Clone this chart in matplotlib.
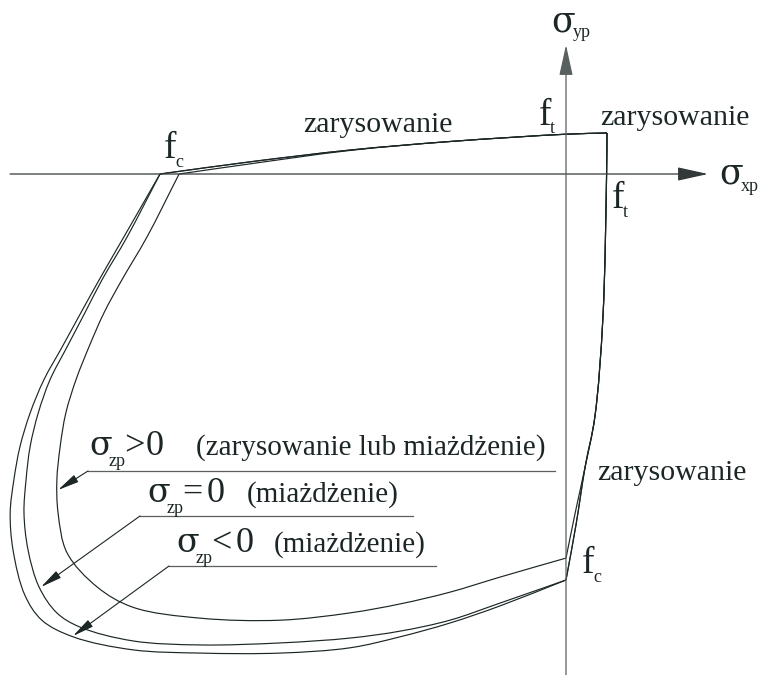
import numpy as np
import matplotlib.pyplot as plt
from matplotlib.path import Path
from matplotlib.patches import PathPatch

# stresses normalised by f_c  (sigma_xp / f_c , sigma_yp / f_c)
top_x = [-1.000, -0.778, -0.532, -0.286, 0.000, 0.101]
top_y = [0.000, 0.030, 0.059, 0.080, 0.098, 0.101]
top_in_x = [-0.953, -0.778, -0.532, -0.286, 0.000, 0.101]
top_in_y = [0.000, 0.025, 0.058, 0.080, 0.098, 0.101]

right_x = [0.101, 0.100, 0.091, 0.071, 0.047, 0.025, 0.000]
right_y = [0.101, 0.002, -0.352, -0.599, -0.722, -0.862, -1.000]
right_in_x = [0.101, 0.100, 0.091, 0.071, 0.047, 0.023, 0.000]
right_in_y = [0.101, 0.002, -0.352, -0.599, -0.722, -0.833, -0.946]

# compression-compression branches: sigma_zp < 0, = 0, > 0
outer_x = [0.000, -0.163, -0.286, -0.409, -0.532, -0.704, -0.901, -1.067, -1.214, -1.291, -1.333,
           -1.362, -1.369, -1.360, -1.345, -1.320, -1.286, -1.241, -1.195, -1.150, -1.089, -1.000]
outer_y = [-1.000, -1.064, -1.106, -1.140, -1.167, -1.180, -1.180, -1.172, -1.140, -1.099, -1.037,
           -0.926, -0.835, -0.754, -0.672, -0.589, -0.507, -0.426, -0.342, -0.261, -0.155, 0.000]
mid_x = [0.000, -0.163, -0.286, -0.409, -0.532, -0.704, -0.901, -1.067, -1.197, -1.254, -1.298,
         -1.325, -1.335, -1.330, -1.320, -1.300, -1.271, -1.229, -1.185, -1.143, -1.081, -1.000]
mid_y = [-1.000, -1.057, -1.099, -1.126, -1.143, -1.155, -1.160, -1.150, -1.116, -1.081, -1.017,
         -0.926, -0.835, -0.754, -0.672, -0.589, -0.507, -0.426, -0.342, -0.261, -0.155, 0.000]
inner_x = [0.000, -0.163, -0.286, -0.409, -0.532, -0.704, -0.901, -1.067, -1.155, -1.229,
           -1.251, -1.254, -1.246, -1.232, -1.207, -1.175, -1.138, -1.094, -1.032, -0.953]
inner_y = [-0.946, -0.993, -1.030, -1.059, -1.081, -1.099, -1.094, -1.067, -1.017, -0.933,
           -0.835, -0.754, -0.672, -0.589, -0.507, -0.426, -0.342, -0.261, -0.155, 0.000]

INK = '#1c2626'
AX = '#5a5f5f'
plt.rcParams['font.family'] = ['Liberation Serif', 'DejaVu Serif']
GREEK = ['DejaVu Serif']

fig = plt.figure(figsize=(7.59, 6.75), dpi=100)
ax = fig.add_axes([0, 0, 1, 1])
S = 406.0
ax.set_xlim(-566 / S, 193 / S)
ax.set_ylim(-501 / S, 174 / S)
ax.axis('off')


def px(x, y):
    # layout helper: picture pixels -> data coords
    return (x - 566) / S, (174 - y) / S


def smooth(xs, ys, a=0.5):
    # centripetal Catmull-Rom through the read points, as cubic bezier segments
    p = np.column_stack([xs, ys])
    ext = np.vstack([2 * p[0] - p[1], p, 2 * p[-1] - p[-2]])
    verts = [p[0]]
    codes = [Path.MOVETO]
    for i in range(1, len(ext) - 2):
        p0, p1, p2, p3 = ext[i - 1], ext[i], ext[i + 1], ext[i + 2]
        d1 = np.linalg.norm(p1 - p0) ** a
        d2 = np.linalg.norm(p2 - p1) ** a
        d3 = np.linalg.norm(p3 - p2) ** a
        b1 = (d1 ** 2 * p2 - d2 ** 2 * p0 + (2 * d1 ** 2 + 3 * d1 * d2 + d2 ** 2) * p1) / (3 * d1 * (d1 + d2))
        b2 = (d3 ** 2 * p1 - d2 ** 2 * p3 + (2 * d3 ** 2 + 3 * d3 * d2 + d2 ** 2) * p2) / (3 * d3 * (d3 + d2))
        verts += [b1, b2, p2]
        codes += [Path.CURVE4] * 3
    return Path(verts, codes)


def draw(xs, ys):
    ax.add_patch(PathPatch(smooth(xs, ys), fill=False, ec=INK, lw=0.85))


for tx, ty, rx, ry, bx, by in [(top_x, top_y, right_x, right_y, outer_x, outer_y),
                               (top_x, top_y, right_x, right_y, mid_x, mid_y),
                               (top_in_x, top_in_y, right_in_x, right_in_y, inner_x, inner_y)]:
    draw(tx, ty)
    draw(rx, ry)
    draw(bx, by)

# axes
ax.annotate('', xy=px(708, 174), xytext=px(10, 174),
            arrowprops=dict(arrowstyle='-|>,head_length=1.9,head_width=0.42', mutation_scale=10,
                            lw=0.9, color='#333838', shrinkA=0, shrinkB=0))
ax.annotate('', xy=px(566, 45), xytext=px(566, 676),
            arrowprops=dict(arrowstyle='-|>,head_length=1.9,head_width=0.42', mutation_scale=10,
                            lw=0.9, color=AX, shrinkA=0, shrinkB=0))


def txt(x, y, s, size, fam=None):
    ax.text(*px(x, y), s, fontsize=size, color=INK, ha='left', va='baseline',
            family=fam if fam else plt.rcParams['font.family'])


# axis symbols
txt(551, 32, 'σ', 25, GREEK); txt(573, 37, 'yp', 13)
txt(719, 183, 'σ', 25, GREEK); txt(741, 191, 'xp', 13)

# strengths
txt(539, 125, 'f', 27); txt(550, 133, 't', 13)
txt(164, 158, 'f', 27); txt(175, 167, 'c', 13)
txt(612, 208, 'f', 27); txt(623, 217, 't', 13)
txt(582, 573, 'f', 27); txt(593, 582, 'c', 13)

# failure modes
txt(303, 132, 'zarysowanie', 21.5)
txt(600, 125, 'zarysowanie', 21.5)
txt(597, 480, 'zarysowanie', 21.5)

# legend labels with leaders: (sigma x, baseline), relation, note, offsets, underline y, end x, arrow tip
labels = [
    ((89, 455), '>', '(zarysowanie lub miażdżenie)', 57, 107, 471, 555, (58, 490)),
    ((147, 502), '=', '(miażdżenie)', 60, 100, 516, 413, (41, 587)),
    ((176, 552), '<', '(miażdżenie)', 60, 98, 566, 436, (73, 636)),
]
for (x0, yb), rel, note, o0, on, yl, xe, tip in labels:
    txt(x0, yb, 'σ', 24, GREEK)
    txt(x0 + 20, yb + 11, 'zp', 13)
    txt(x0 + 35, yb, rel, 26)
    txt(x0 + o0, yb, '0', 26)
    txt(x0 + on, yb, note, 21)
    xs = x0 - 1 if rel == '>' else x0 - 7
    ax.plot(*zip(px(xs, yl), px(xe, yl)), color=AX, lw=0.9)
    ax.annotate('', xy=px(*tip), xytext=px(xs, yl),
                arrowprops=dict(arrowstyle='-|>,head_length=1.3,head_width=0.25', mutation_scale=10,
                                lw=0.8, color=INK, shrinkA=0, shrinkB=0))

fig.savefig('out.png', dpi=100, facecolor='white')
